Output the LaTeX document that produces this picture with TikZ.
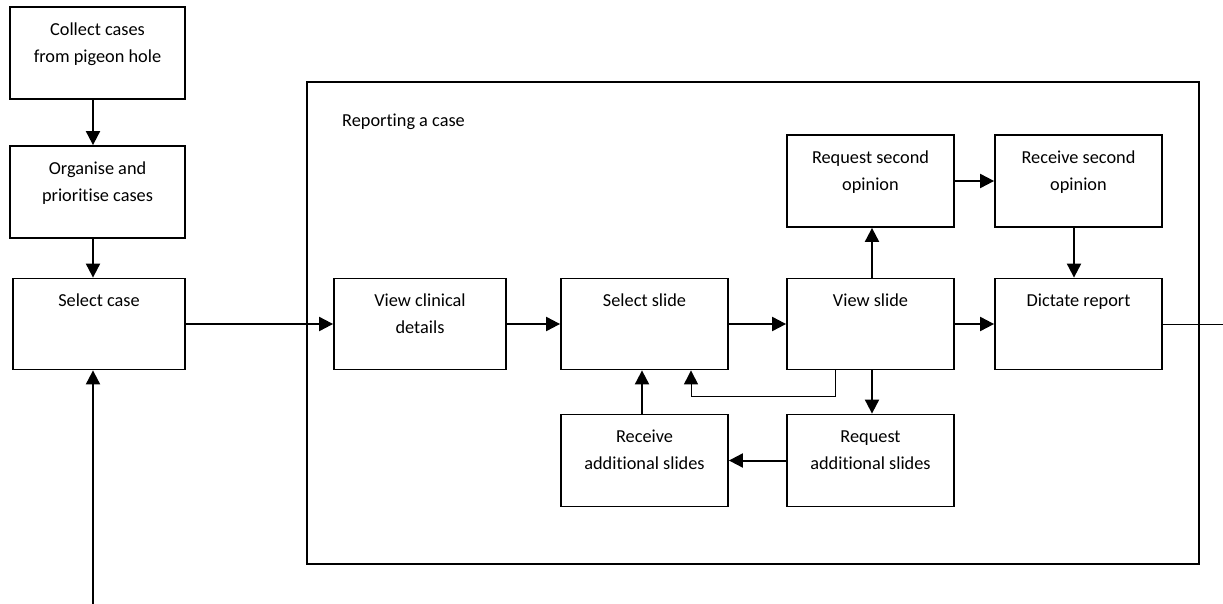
\documentclass[tikz,border=0pt]{standalone}
\usepackage{fontspec}
\setmainfont{Carlito}[Ligatures=NoCommon]
\usetikzlibrary{arrows.meta}
\tikzset{
  stepbox/.style={draw=black, line width=1.8pt, rectangle, inner sep=0pt, fill=white},
  boxtext/.style={anchor=north, inner sep=0pt, align=center, font=\fontsize{18.3}{27}\selectfont},
  arr/.style={line width=2pt, -{Triangle[length=14pt,width=14pt]}},
  thinarr/.style={line width=1pt, -{Triangle[length=14pt,width=14pt]}},
  thin line/.style={line width=1pt},
  frame/.style={draw=black, line width=1.6pt, rectangle, inner sep=0pt},
}
\newcommand{\fl}{\rule{0pt}{14pt}}
\begin{document}
\begin{tikzpicture}[x=1pt,y=-1pt]
\useasboundingbox (0,0) rectangle (1223,604);
% container
\node[frame, minimum width=892pt, minimum height=482pt] (container) at (753,323) {};
\node[anchor=base west, inner sep=0pt, font=\fontsize{18.3}{27}\selectfont] (title) at (342,127) {Reporting a case};
% left column
\node[stepbox, minimum width=175pt, minimum height=92pt] (collect) at (97.5,53) {};
\node[boxtext] (collect-t) at ([yshift=-15pt]collect.north) {\fl Collect cases\\from pigeon hole};
\node[stepbox, minimum width=175pt, minimum height=92pt] (organise) at (97.5,192) {};
\node[boxtext] (organise-t) at ([yshift=-15pt]organise.north) {\fl Organise and\\prioritise cases};
\node[stepbox, minimum width=172pt, minimum height=91pt] (selcase) at (99,324) {};
\node[boxtext] (selcase-t) at ([yshift=-15pt]selcase.north) {\fl Select case};
% main row
\node[stepbox, minimum width=172pt, minimum height=91pt] (clin) at (420,324) {};
\node[boxtext] (clin-t) at ([yshift=-15pt]clin.north) {\fl View clinical\\details};
\node[stepbox, minimum width=167pt, minimum height=91pt] (selslide) at (644.5,324) {};
\node[boxtext] (selslide-t) at ([yshift=-15pt]selslide.north) {\fl Select slide};
\node[stepbox, minimum width=167pt, minimum height=91pt] (viewslide) at (870.5,324) {};
\node[boxtext] (viewslide-t) at ([yshift=-15pt]viewslide.north) {\fl View slide};
\node[stepbox, minimum width=167pt, minimum height=91pt] (dictate) at (1078.5,324) {};
\node[boxtext] (dictate-t) at ([yshift=-15pt]dictate.north) {\fl Dictate report};
% top row
\node[stepbox, minimum width=167pt, minimum height=92pt] (reqsec) at (870.5,181) {};
\node[boxtext] (reqsec-t) at ([yshift=-15pt]reqsec.north) {\fl Request second\\opinion};
\node[stepbox, minimum width=167pt, minimum height=92pt] (recsec) at (1078.5,181) {};
\node[boxtext] (recsec-t) at ([yshift=-15pt]recsec.north) {\fl Receive second\\opinion};
% bottom row
\node[stepbox, minimum width=167pt, minimum height=92pt] (recadd) at (644.5,460.5) {};
\node[boxtext] (recadd-t) at ([yshift=-15pt]recadd.north) {\fl Receive\\additional slides};
\node[stepbox, minimum width=167pt, minimum height=92pt] (reqadd) at (870.5,460.5) {};
\node[boxtext] (reqadd-t) at ([yshift=-15pt]reqadd.north) {\fl Request\\additional slides};
% coordinates
\coordinate (loopin) at (93,604);
\coordinate (exit) at (1223,324);
\coordinate (fb1) at (835,396);
\coordinate (fb2) at (691,396);
% connectors
\draw[arr] ([xshift=-4.5pt]collect.south) -- ([xshift=-4.5pt]organise.north);
\draw[arr] ([xshift=-4.5pt]organise.south) -- ([xshift=-4.5pt]organise.south |- selcase.north);
\draw[arr] (loopin) -- (loopin |- selcase.south);
\draw[arr] (selcase.east) -- (clin.west);
\draw[arr] (clin.east) -- (selslide.west);
\draw[arr] (selslide.east) -- (viewslide.west);
\draw[arr] (viewslide.east) -- (dictate.west);
\draw[arr] ([xshift=1.5pt]viewslide.north) -- ([xshift=1.5pt]reqsec.south);
\draw[arr] (reqsec.east) -- (recsec.west);
\draw[arr] ([xshift=-4.5pt]recsec.south) -- ([xshift=-4.5pt]dictate.north);
\draw[arr] ([xshift=1.5pt]viewslide.south) -- ([xshift=1.5pt]reqadd.north);
\draw[arr] (reqadd.west) -- (recadd.east);
\draw[arr] ([xshift=-2.5pt]recadd.north) -- ([xshift=-2.5pt]selslide.south);
\draw[thinarr] (fb1 |- viewslide.south) -- (fb1) -- (fb2) -- (fb2 |- selslide.south);
\draw[thin line] (dictate.east) -- (exit);
\end{tikzpicture}
\end{document}
